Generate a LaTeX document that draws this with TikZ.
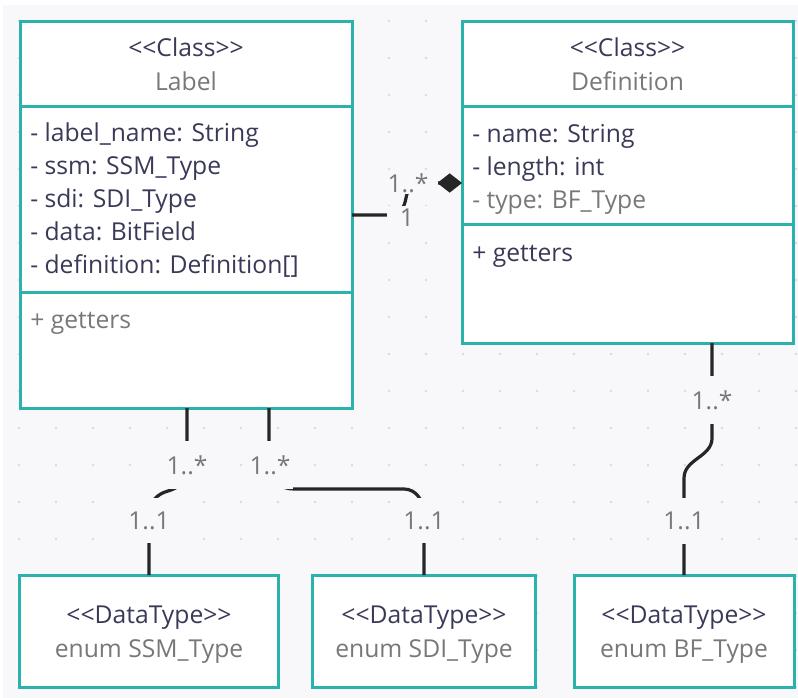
\documentclass[tikz,border=0pt]{standalone}
\usepackage{fontspec}
\setmainfont{Open Sans}
\usetikzlibrary{positioning,arrows.meta}

\definecolor{umlteal}{RGB}{44,178,172}
\definecolor{umlink}{RGB}{58,58,88}
\definecolor{umlgrey}{RGB}{120,120,120}
\definecolor{canvas}{RGB}{248,248,250}
\definecolor{griddot}{RGB}{218,218,224}

\newcommand{\umlfont}{\fontsize{18.5}{24.75}\selectfont}
\newcommand{\stereo}[1]{<{}<#1>{}>}

\tikzset{
  compart/.style={draw=umlteal, line width=2.25pt, fill=white, inner sep=0pt, outer sep=0pt},
  typebox/.style={compart, minimum height=84pt},
  membertxt/.style={inner sep=0pt, align=left, font=\umlfont, text=umlink, execute at begin node=\strut},
  headtxt/.style={inner sep=0pt, align=center, font=\fontsize{18.5}{25.5}\selectfont},
  mult/.style={fill=canvas, text=umlgrey, font=\umlfont, inner xsep=2pt, inner ysep=10.5pt},
  link/.style={line width=2.4pt, draw=black!85},
}

\begin{document}
\begin{tikzpicture}[x=0.75pt,y=-0.75pt]
\fill[white] (0,0) rectangle (798,698);
\fill[canvas] (3,5) rectangle (798,698);
\foreach \i in {0,...,21}
  \foreach \j in {0,...,18}
    \fill[griddot] (19+37*\i,21+37*\j) circle[radius=1.1pt];

% Label class
\node[compart, minimum width=249pt, minimum height=63.75pt] (lblHead) at (186,64.5) {};
\node[compart, minimum width=249pt, minimum height=138.75pt, below=0pt of lblHead] (lblAttr) {};
\node[compart, minimum width=249pt, minimum height=87pt, below=0pt of lblAttr] (lblOps) {};
\node[headtxt] (lblName) at (lblHead) {{\color{umlink}\stereo{Class}}\\{\color{umlgrey}Label}};
\node[membertxt, below right=11.5pt and 7.5pt of lblAttr.north west] (lblAttrTxt)
  {- label\_name: String\\- ssm: SSM\_Type\\- sdi: SDI\_Type\\- data: BitField\\- definition: Definition[]};
\node[membertxt, text=umlgrey, below right=9.75pt and 7.5pt of lblOps.north west] (lblOpsTxt) {+ getters};

% Definition class
\node[compart, minimum width=248.25pt, minimum height=63.75pt] (defHead) at (627.5,64.5) {};
\node[compart, minimum width=248.25pt, minimum height=88.5pt, below=0pt of defHead] (defAttr) {};
\node[compart, minimum width=248.25pt, minimum height=88.5pt, below=0pt of defAttr] (defOps) {};
\node[headtxt] (defName) at (defHead) {{\color{umlink}\stereo{Class}}\\{\color{umlgrey}Definition}};
\node[membertxt, below right=12.5pt and 7.5pt of defAttr.north west] (defAttrTxt)
  {- name: String\\- length: int\\{\color{umlgrey}- type: BF\_Type}};
\node[membertxt, below right=9.75pt and 7.5pt of defOps.north west] (defOpsTxt) {+ getters};

% data types
\node[typebox, minimum width=194.25pt] (ssmBox) at (149,631) {};
\node[typebox, minimum width=167.25pt] (sdiBox) at (424,631) {};
\node[typebox, minimum width=165pt] (bfBox) at (684,631) {};
\node[headtxt] (ssmTxt) at ([yshift=-2.6pt]ssmBox) {{\color{umlink}\stereo{DataType}}\\{\color{umlgrey}enum SSM\_Type}};
\node[headtxt] (sdiTxt) at ([yshift=-2.6pt]sdiBox) {{\color{umlink}\stereo{DataType}}\\{\color{umlgrey}enum SDI\_Type}};
\node[headtxt] (bfTxt) at ([yshift=-2.6pt]bfBox) {{\color{umlink}\stereo{DataType}}\\{\color{umlgrey}enum BF\_Type}};

% connectors
\draw[link, -{Diamond[length=18.5pt,width=14.5pt]}] ([yshift=-11.625pt]lblAttr.east) -- ++(40,0)
  to[out=0,in=-100] ++(14,-17) to[out=80,in=180] ++(14,-15) -- ([yshift=-12.75pt]defAttr.west);
\draw[link] ([xshift=0.75pt]lblOps.south) -- ++(0,61) to[out=-90,in=15] ++(-19,22)
  to[out=195,in=90] ++(-19,23) -- (ssmBox.north);
\draw[link] ([xshift=62.25pt]lblOps.south) -- ++(0,61) to[out=-90,in=180] ++(25,20) -- ++(110,0)
  to[out=0,in=90] ++(20,25) -- (sdiBox.north);
\draw[link] ([xshift=63.4pt]defOps.south) -- ++(0,95) to[out=-90,in=90] ++(-28,40) -- (bfBox.north);

% multiplicities
\node[mult, inner xsep=7.5pt, inner ysep=0.5pt] (mDefMany) at (408,183.5) {1..*};
\node[mult, inner xsep=10pt, inner ysep=2pt] (mLblOne) at (407,217.5) {1};
\node[mult] (mSsmMany) at (187,465) {1..*};
\node[mult] (mSsmOne) at (149,520.5) {1..1};
\node[mult] (mSdiMany) at (270,465) {1..*};
\node[mult] (mSdiOne) at (424,520.5) {1..1};
\node[mult] (mBfMany) at (712,400) {1..*};
\node[mult] (mBfOne) at (684,521) {1..1};
\end{tikzpicture}
\end{document}
